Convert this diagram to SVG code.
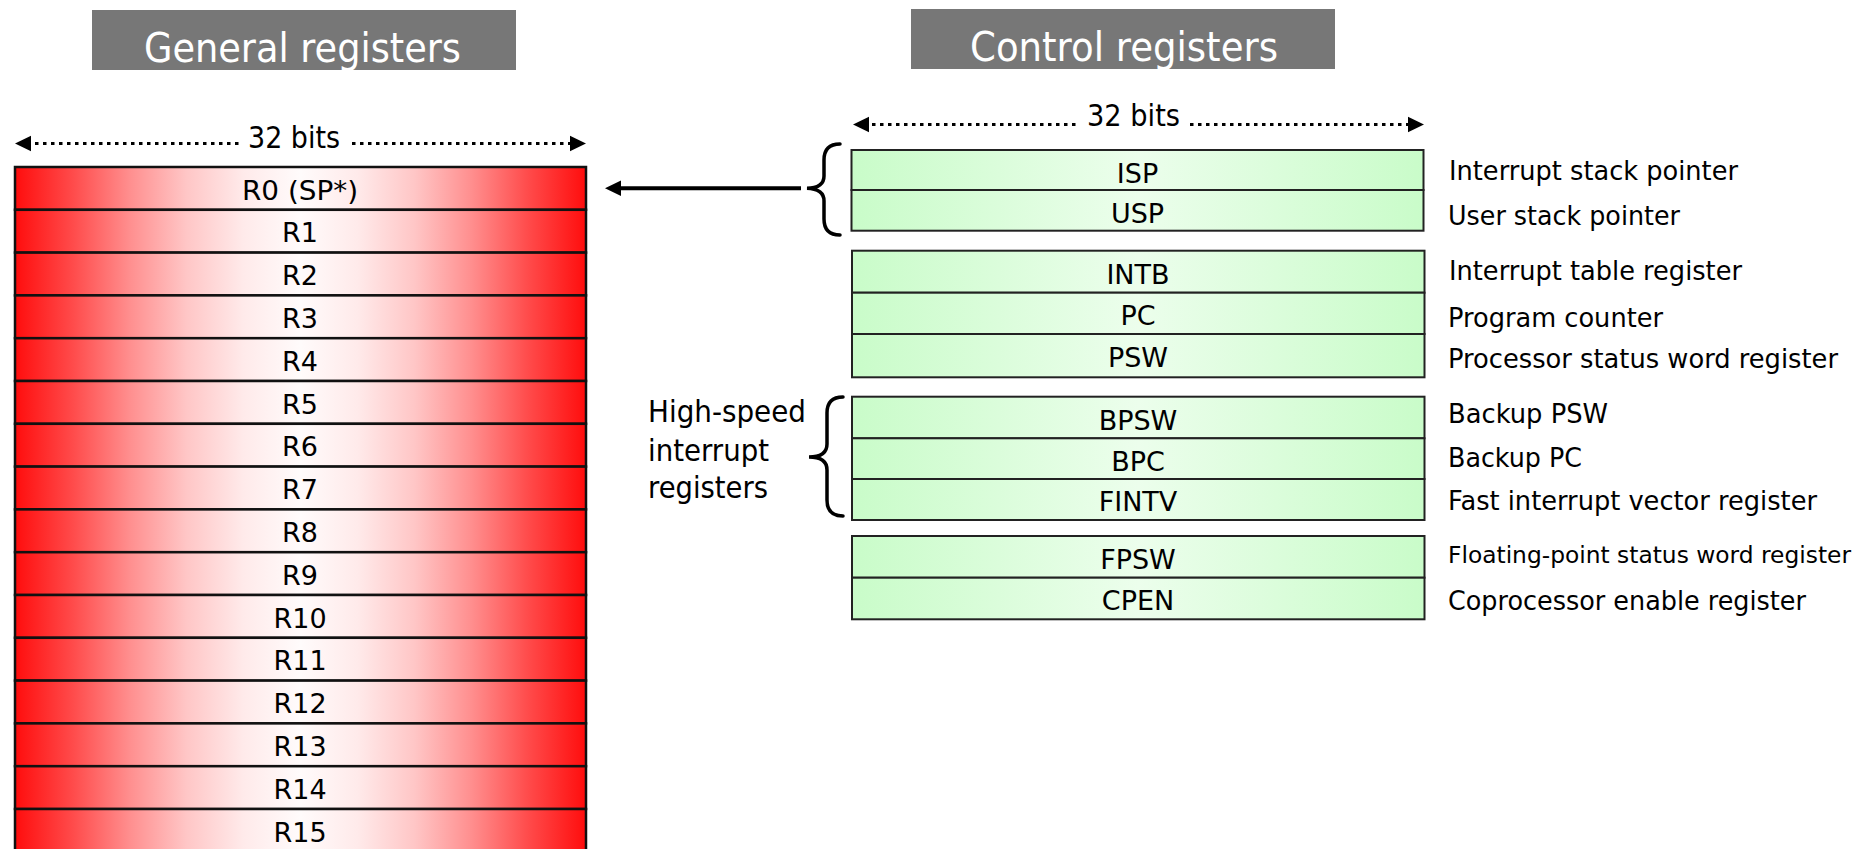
<svg xmlns="http://www.w3.org/2000/svg" width="1874" height="849" viewBox="0 0 1874 849">
<defs>
<linearGradient id="redG" gradientUnits="userSpaceOnUse" x1="15" y1="0" x2="586" y2="0">
<stop offset="0" stop-color="#ff0d0d"/>
<stop offset="0.1" stop-color="#ff4a4a"/>
<stop offset="0.2" stop-color="#ff8e8e"/>
<stop offset="0.3" stop-color="#ffc6c6"/>
<stop offset="0.4" stop-color="#ffeaea"/>
<stop offset="0.5" stop-color="#fffbfb"/>
<stop offset="0.6" stop-color="#ffeaea"/>
<stop offset="0.7" stop-color="#ffc6c6"/>
<stop offset="0.8" stop-color="#ff8e8e"/>
<stop offset="0.9" stop-color="#ff4a4a"/>
<stop offset="1" stop-color="#ff0d0d"/>
</linearGradient>
<linearGradient id="greenG" gradientUnits="userSpaceOnUse" x1="852" y1="0" x2="1424" y2="0">
<stop offset="0" stop-color="#c9fcc9"/>
<stop offset="0.5" stop-color="#ecfeec"/>
<stop offset="1" stop-color="#c9fcc9"/>
</linearGradient>
</defs>
<style>
text{font-family:"DejaVu Sans","Liberation Sans",sans-serif;fill:#000}
.hdr{fill:#777777}
.hdrt{font-size:41px;fill:#ffffff}
.red{fill:url(#redG);stroke:#111;stroke-width:2.5}
.grn{fill:url(#greenG);stroke:#222;stroke-width:2}
.lbl{font-size:27px;text-anchor:middle}
.leg{font-size:27px}
.dots{stroke:#000;stroke-width:3;stroke-dasharray:3.5 4.5;fill:none}
.brace{fill:none;stroke:#000;stroke-width:3.5;stroke-linecap:round}
.bits{font-size:30px}
</style>

<g id="hdr-general">
<rect class="hdr" x="92" y="10" width="424" height="60"/>
<text class="hdrt" x="144" y="61.5" textLength="317" lengthAdjust="spacingAndGlyphs">General registers</text>
</g>
<g id="hdr-control">
<rect class="hdr" x="911" y="9" width="424" height="60"/>
<text class="hdrt" x="970" y="61" textLength="308" lengthAdjust="spacingAndGlyphs">Control registers</text>
</g>

<g id="width-general">
<line class="dots" x1="35" y1="143.5" x2="241" y2="143.5"/>
<line class="dots" x1="352" y1="143.5" x2="570" y2="143.5"/>
<polygon points="15,143.5 31,135.7 31,151.3"/>
<polygon points="586,143.5 570,135.7 570,151.3"/>
<text class="bits" x="248" y="147.5" textLength="92" lengthAdjust="spacingAndGlyphs">32 bits</text>
</g>
<g id="width-control">
<line class="dots" x1="872" y1="124.5" x2="1080" y2="124.5"/>
<line class="dots" x1="1190" y1="124.5" x2="1408" y2="124.5"/>
<polygon points="853,124.5 869,116.7 869,132.3"/>
<polygon points="1424,124.5 1408,116.7 1408,132.3"/>
<text class="bits" x="1087" y="126" textLength="93" lengthAdjust="spacingAndGlyphs">32 bits</text>
</g>

<g id="general-registers">
<g id="R0"><rect class="red" x="15" y="167" width="571" height="42.8"/><text class="lbl" x="300" y="199.5" textLength="116" lengthAdjust="spacingAndGlyphs">R0 (SP*)</text></g>
<g id="R1"><rect class="red" x="15" y="209.8" width="571" height="42.8"/><text class="lbl" x="300" y="242.3">R1</text></g>
<g id="R2"><rect class="red" x="15" y="252.6" width="571" height="42.8"/><text class="lbl" x="300" y="285.1">R2</text></g>
<g id="R3"><rect class="red" x="15" y="295.4" width="571" height="42.8"/><text class="lbl" x="300" y="327.9">R3</text></g>
<g id="R4"><rect class="red" x="15" y="338.2" width="571" height="42.8"/><text class="lbl" x="300" y="370.7">R4</text></g>
<g id="R5"><rect class="red" x="15" y="381" width="571" height="42.8"/><text class="lbl" x="300" y="413.5">R5</text></g>
<g id="R6"><rect class="red" x="15" y="423.8" width="571" height="42.8"/><text class="lbl" x="300" y="456.3">R6</text></g>
<g id="R7"><rect class="red" x="15" y="466.6" width="571" height="42.8"/><text class="lbl" x="300" y="499.1">R7</text></g>
<g id="R8"><rect class="red" x="15" y="509.4" width="571" height="42.8"/><text class="lbl" x="300" y="541.9">R8</text></g>
<g id="R9"><rect class="red" x="15" y="552.2" width="571" height="42.8"/><text class="lbl" x="300" y="584.7">R9</text></g>
<g id="R10"><rect class="red" x="15" y="595" width="571" height="42.8"/><text class="lbl" x="300" y="627.5">R10</text></g>
<g id="R11"><rect class="red" x="15" y="637.8" width="571" height="42.8"/><text class="lbl" x="300" y="670.3">R11</text></g>
<g id="R12"><rect class="red" x="15" y="680.6" width="571" height="42.8"/><text class="lbl" x="300" y="713.1">R12</text></g>
<g id="R13"><rect class="red" x="15" y="723.4" width="571" height="42.8"/><text class="lbl" x="300" y="755.9">R13</text></g>
<g id="R14"><rect class="red" x="15" y="766.2" width="571" height="42.8"/><text class="lbl" x="300" y="798.7">R14</text></g>
<g id="R15"><rect class="red" x="15" y="809" width="571" height="42.8"/><text class="lbl" x="300" y="841.5">R15</text></g>
</g>

<g id="control-registers">
<g id="ISP"><rect class="grn" x="851.5" y="150" width="572" height="40"/><text class="lbl" x="1137.5" y="182.5">ISP</text></g>
<g id="USP"><rect class="grn" x="851.5" y="190" width="572" height="40.7"/><text class="lbl" x="1137.5" y="222.7">USP</text></g>
<g id="INTB"><rect class="grn" x="852" y="250.7" width="572.5" height="42"/><text class="lbl" x="1138" y="283.5">INTB</text></g>
<g id="PC"><rect class="grn" x="852" y="292.7" width="572.5" height="41.3"/><text class="lbl" x="1138" y="324.5">PC</text></g>
<g id="PSW"><rect class="grn" x="852" y="334" width="572.5" height="43.3"/><text class="lbl" x="1138" y="367">PSW</text></g>
<g id="BPSW"><rect class="grn" x="852" y="396.7" width="572.5" height="41.6"/><text class="lbl" x="1138" y="429.5">BPSW</text></g>
<g id="BPC"><rect class="grn" x="852" y="438.3" width="572.5" height="40.7"/><text class="lbl" x="1138" y="470.5">BPC</text></g>
<g id="FINTV"><rect class="grn" x="852" y="479" width="572.5" height="41"/><text class="lbl" x="1138" y="511">FINTV</text></g>
<g id="FPSW"><rect class="grn" x="852" y="536" width="572.5" height="41.7"/><text class="lbl" x="1138" y="568.5">FPSW</text></g>
<g id="CPEN"><rect class="grn" x="852" y="577.7" width="572.5" height="41.6"/><text class="lbl" x="1138" y="610">CPEN</text></g>
</g>

<g id="legend">
<text class="leg" x="1449" y="180" textLength="289" lengthAdjust="spacingAndGlyphs">Interrupt stack pointer</text>
<text class="leg" x="1448" y="225" textLength="232" lengthAdjust="spacingAndGlyphs">User stack pointer</text>
<text class="leg" x="1449" y="280" textLength="293" lengthAdjust="spacingAndGlyphs">Interrupt table register</text>
<text class="leg" x="1448" y="326.5" textLength="215" lengthAdjust="spacingAndGlyphs">Program counter</text>
<text class="leg" x="1448" y="368.3" textLength="390" lengthAdjust="spacingAndGlyphs">Processor status word register</text>
<text class="leg" x="1448" y="422.7" textLength="160" lengthAdjust="spacingAndGlyphs">Backup PSW</text>
<text class="leg" x="1448" y="466.7" textLength="134" lengthAdjust="spacingAndGlyphs">Backup PC</text>
<text class="leg" x="1448" y="510" textLength="369" lengthAdjust="spacingAndGlyphs">Fast interrupt vector register</text>
<text class="leg" x="1448" y="563.3" style="font-size:23px" textLength="403" lengthAdjust="spacingAndGlyphs">Floating-point status word register</text>
<text class="leg" x="1448" y="610" style="font-size:26px" textLength="358" lengthAdjust="spacingAndGlyphs">Coprocessor enable register</text>
</g>

<g id="hs-label">
<text style="font-size:30px" x="648" y="421.7" textLength="158" lengthAdjust="spacingAndGlyphs">High-speed</text>
<text style="font-size:30px" x="648" y="461" textLength="121" lengthAdjust="spacingAndGlyphs">interrupt</text>
<text style="font-size:30px" x="648" y="497.5" textLength="120" lengthAdjust="spacingAndGlyphs">registers</text>
</g>

<g id="connectors">
<path class="brace" d="M840,144 Q824,144 824,160 L824,176 Q824,188 807,188.3 Q824,189 824,201 L824,219 Q824,235 840,235"/>
<path class="brace" d="M843,397 Q827,397 827,413 L827,444 Q827,457 809,457 Q827,457 827,470 L827,500 Q827,516 843,516"/>
<line x1="801" y1="188.3" x2="618" y2="188.3" stroke="#000" stroke-width="4"/>
<polygon points="605,188.3 621,180.5 621,196.1"/>
</g>
</svg>
